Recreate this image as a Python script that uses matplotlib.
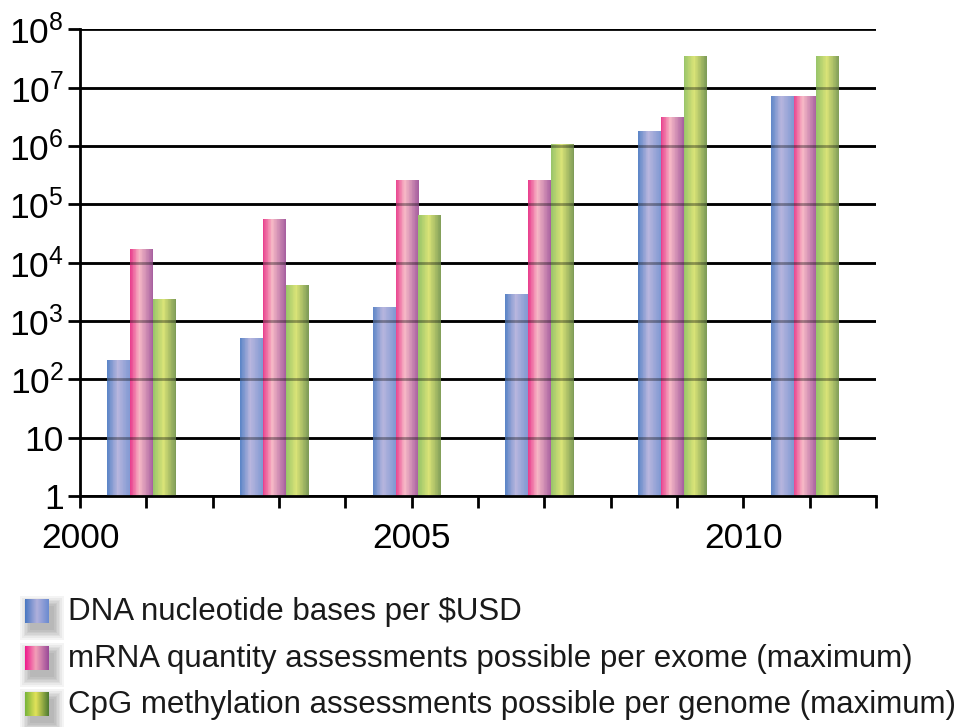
import numpy as np
import matplotlib
matplotlib.use("Agg")
import matplotlib.pyplot as plt
from matplotlib.colors import LinearSegmentedColormap
from matplotlib.patches import Rectangle

# --- data ---
years = [2001, 2003, 2005, 2007, 2009, 2011]
dna_bases_per_usd = [210, 510, 1720, 2860, 1.83e6, 7.3e6]
mrna_per_exome = [16900, 55000, 263000, 263000, 3.1e6, 7.3e6]
cpg_per_genome = [2400, 4100, 66800, 1.08e6, 3.5e7, 3.5e7]

series_labels = ["DNA nucleotide bases per $USD",
                 "mRNA quantity assessments possible per exome (maximum)",
                 "CpG methylation assessments possible per genome (maximum)"]
year_labels = {2000: "2000", 2005: "2005", 2010: "2010"}
y_ticks = [1, 10, 1e2, 1e3, 1e4, 1e5, 1e6, 1e7, 1e8]
y_labels = ["1", "10", "$10^{2}$", "$10^{3}$", "$10^{4}$", "$10^{5}$",
            "$10^{6}$", "$10^{7}$", "$10^{8}$"]

plt.rcParams['font.family'] = ['Liberation Sans', 'DejaVu Sans']
plt.rcParams['mathtext.fontset'] = 'custom'
plt.rcParams['mathtext.rm'] = 'Liberation Sans'
plt.rcParams['mathtext.it'] = 'Liberation Sans'

# cylinder-like shading for each series
bar_cmaps = [
    LinearSegmentedColormap.from_list("b", [(0, '#5a84c6'), (0.45, '#b8b6de'), (1, '#7f98d2')]),
    LinearSegmentedColormap.from_list("p", [(0, '#e83c8c'), (0.4, '#f7b9c6'), (1, '#a65f9f')]),
    LinearSegmentedColormap.from_list("g", [(0, '#98c46a'), (0.45, '#d9e377'), (1, '#7c9a57')]),
]
legend_cmaps = [
    LinearSegmentedColormap.from_list("lb", [(0, '#4a78c2'), (0.5, '#b0b0dc'), (1, '#6a8ad0')]),
    LinearSegmentedColormap.from_list("lp", [(0, '#ee1a8c'), (0.45, '#f2a0b8'), (1, '#9a4a98')]),
    LinearSegmentedColormap.from_list("lg", [(0, '#78b43a'), (0.45, '#e2e25a'), (1, '#4e7a32')]),
]

fig = plt.figure(figsize=(9.63, 7.27), dpi=100)
ax = fig.add_axes([0.0831, 0.3177, 0.8266, 0.642])

ax.set_yscale('log')
ax.set_ylim(1, 1e8)
ax.set_xlim(2000, 2012)

# gridlines under the bars (solid) ...
ax.set_axisbelow(True)
ax.yaxis.grid(True, color='black', linewidth=2.0)

bar_w = 0.345
shift = -0.07
n_slices = 30
all_series = [dna_bases_per_usd, mrna_per_exome, cpg_per_genome]
x = np.array(years, dtype=float) + shift

for i, (vals, cmap) in enumerate(zip(all_series, bar_cmaps)):
    left = x + (i - 1) * bar_w - bar_w / 2
    sw = bar_w / n_slices
    for k in range(n_slices):
        ax.bar(left + (k + 0.5) * sw, vals, width=sw * 1.02, bottom=1,
               color=cmap((k + 0.5) / n_slices), linewidth=0,
               antialiased=False, zorder=2)

# ... and a faint copy over them so they show through
for yt in y_ticks[1:-1]:
    ax.axhline(yt, color='black', linewidth=2.0, alpha=0.35, zorder=3)

for s in ['top', 'right']:
    ax.spines[s].set_visible(False)
for s in ['left', 'bottom']:
    ax.spines[s].set_linewidth(2.0)
    ax.spines[s].set_zorder(4)

ax.set_yticks(y_ticks)
ax.set_yticklabels(y_labels)
ax.yaxis.set_minor_locator(matplotlib.ticker.NullLocator())
ax.tick_params(axis='y', direction='out', length=8.6, width=2.0, labelsize=25.5, pad=3)

ax.set_xticks(range(2000, 2013))
ax.set_xticklabels([year_labels.get(t, "") for t in range(2000, 2013)])
ax.tick_params(axis='x', direction='out', length=8.6, width=2.0, labelsize=25.5, pad=10)

# --- legend drawn by hand below the plot ---
row_base = [620, 667, 713]
for label, cmap, yb in zip(series_labels, legend_cmaps, row_base):
    top = yb - 21
    sx0, sy0, sw_px, sh_px = 25, top, 24, 24
    # soft drop shadow, behind the swatch
    for j in range(7):
        pad = j * 1.6
        fig.patches.append(Rectangle(((sx0 + 5 - pad) / 963, 1 - (sy0 + sh_px + 7 + pad) / 727),
                                     (sw_px + 2 * pad) / 963, (sh_px + 2 * pad) / 727,
                                     transform=fig.transFigure, color='black',
                                     alpha=0.045, linewidth=0, zorder=0))
    sax = fig.add_axes([sx0 / 963, 1 - (sy0 + sh_px) / 727, sw_px / 963, sh_px / 727])
    sax.set_zorder(5)
    sax.imshow(np.linspace(0, 1, 64).reshape(1, -1), cmap=cmap, aspect='auto',
               extent=[0, 1, 0, 1])
    sax.set_axis_off()
    fig.text(68 / 963, 1 - yb / 727, label, fontsize=22.5, va='baseline', ha='left',
             color='#1a1a1a')

fig.savefig("out.png", dpi=100)
